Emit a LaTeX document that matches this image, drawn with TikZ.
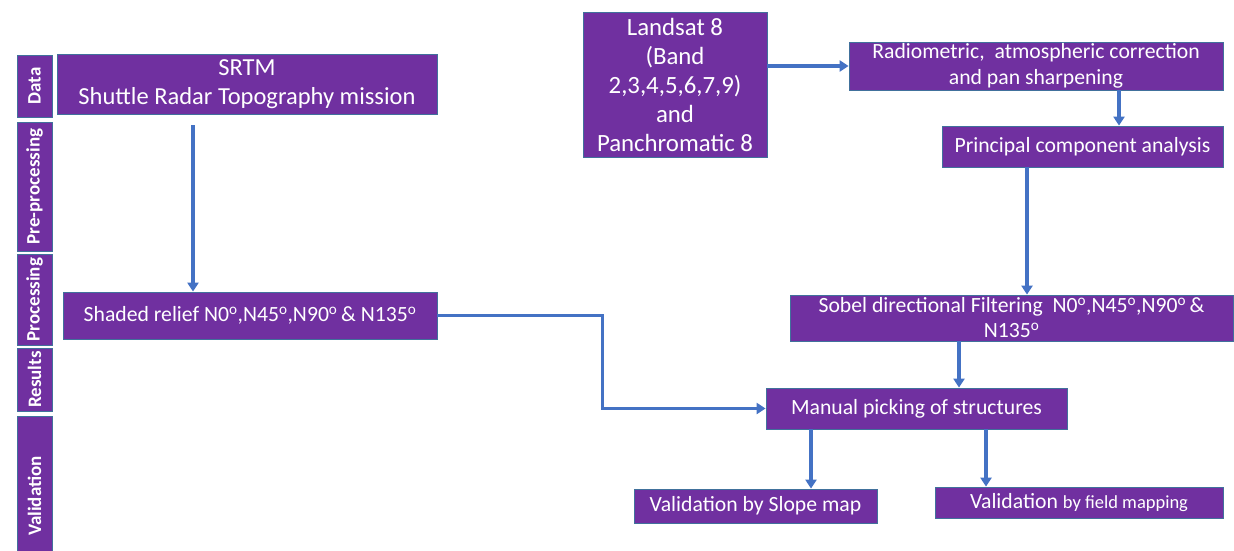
\documentclass[tikz,border=0pt]{standalone}
\usepackage{fontspec}
\setmainfont{Carlito}
\usetikzlibrary{arrows.meta,positioning,calc}
\definecolor{boxpurple}{HTML}{7030A0}
\definecolor{boxedge}{HTML}{41719C}
\definecolor{flowblue}{HTML}{4472C4}
\newcommand{\dego}{\textsuperscript{o}}
\tikzset{pb/.style={draw=boxedge,line width=0.8pt,fill=boxpurple,text=white,inner
sep=0pt,align=center,font=\fontsize{21.7}{26}\selectfont},lb/.style={pb,rotate=90,font=\bfseries\fontsize{19}{22}\selectfont},fl/.style={flowblue,line
width=3.5pt,-{Triangle[width=11pt,length=9pt]}}}

\begin{document}
\begin{tikzpicture}[x=1pt,y=-1pt]
	\useasboundingbox (0,0) rectangle (1234,551);
	% stages on the left
	\node[lb,minimum width=62,minimum height=35] (dat) at (34.5,86) {Data};
	\node[lb,minimum width=129,minimum height=35] (pre) at (34.5,186.5) {Pre-processing};
	\node[lb,minimum width=91,minimum height=35] (pro) at (34.5,299.5) {Processing};
	\node[lb,minimum width=63,minimum height=35] (res) at (34.5,379.5) {Results};
	\node[lb,minimum width=160,minimum height=35] (val) at (34.5,496) {Validation};
	% boxes
	\node[pb,minimum width=380,minimum height=60,font=\fontsize{24.5}{29.5}\selectfont] (srt) at (247,84) {SRTM\\Shuttle Radar Topography mission};
	\node[pb,minimum width=374,minimum height=47] (shd) at (250,315.5) {Shaded relief N0\dego,N45\dego,N90\dego\,\& N135\dego};
	\node[pb,minimum width=184,minimum height=145,font=\fontsize{24.8}{29}\selectfont] (lnd) at (675,84.5) {Landsat 8\\(Band\\2,3,4,5,6,7,9)\\and\\Panchromatic 8};
	\node[pb,minimum width=374,minimum height=48] (rad) at (1036,66) {Radiometric,\ \ atmospheric correction\\and pan sharpening};
	\node[pb,minimum width=281,minimum height=41] (pca) at (1082.5,146.5) {Principal component analysis};
	\node[pb,minimum width=443,minimum height=46,font=\fontsize{21.7}{25}\selectfont] (sob) at (1011.5,318) {Sobel directional Filtering\ \ N0\dego,N45\dego,N90\dego\,\&\\N135\dego};
	\node[pb,minimum width=301,minimum height=41] (man) at (916.5,408.5) {Manual picking of structures};
	\node[pb,minimum width=243,minimum height=34] (slp) at (755.5,506) {Validation by Slope map};
	\node[pb,minimum width=288,minimum height=31] (fld) at (1079,502.5) {Validation {\fontsize{18.5}{22}\selectfont by field mapping}};
	% arrows
	\coordinate (s0) at (193,125);
	\draw[fl] (s0) -- (s0 |- shd.north);
	\draw[fl] (lnd.east |- rad.west) -- (rad.west);
	\draw[fl] (rad.south -| 1119,0) -- (pca.north -| 1119,0);
	\draw[fl] (pca.south -| 1027,0) -- (sob.north -| 1027,0);
	\draw[fl] (sob.south -| 959,0) -- (man.north -| 959,0);
	\draw[fl] (shd.east) -- ++(165,0) |- (man.west);
	\draw[fl] (man.south -| 811,0) -- (slp.north -| 811,0);
	\draw[fl] (man.south -| 986,0) -- (fld.north -| 986,0);
\end{tikzpicture}
\end{document}
